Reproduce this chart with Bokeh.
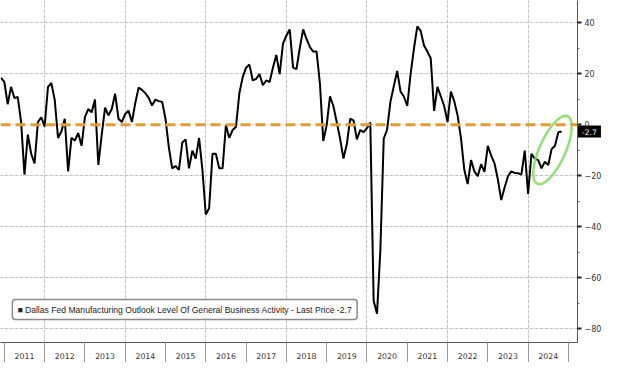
from bokeh.plotting import figure
from bokeh.models import LinearAxis, FixedTicker, Span, Label, Range1d, Grid, ColumnDataSource
from bokeh.embed import file_html
from bokeh.resources import INLINE

# ---- data (monthly, Dec 2010 .. Nov 2024) ----
start_year = 2010
start_month = 12
v2010 = [18.3]
v2011 = [16.7, 8.0, 14.8, 10.4, 10.8, 1.0, -19.6, -3.9, -11.4, -15.2, 1.0, 2.9]
v2012 = [-0.8, 14.8, 16.3, 9.8, -5.2, -2.7, 2.3, -18.3, -5.2, -6.2, -3.3, -8.3]
v2013 = [2.9, 6.1, 4.8, 9.8, -15.8, -4.0, 6.7, 3.6, 6.1, 12.1, 2.3, 1.0]
v2014 = [4.2, 5.4, 1.0, 8.5, 14.5, 13.6, 12.3, 10.5, 7.5, 9.8, 9.2, 8.9]
v2015 = [2.3, -8.9, -17.1, -16.2, -17.7, -7.0, -5.8, -17.1, -10.2, -13.3, -5.2, -17.7]
v2016 = [-35.2, -32.7, -11.4, -11.4, -17.1, -17.1, -0.2, -5.2, -2.1, -0.8, 12.3, 18.6]
v2017 = [22.3, 23.5, 17.3, 17.9, 19.8, 15.4, 17.3, 16.7, 22.3, 27.3, 19.8, 31.7]
v2018 = [34.8, 37.3, 22.3, 21.7, 30.0, 37.3, 33.6, 30.4, 28.6, 28.6, 16.0, -6.4]
v2019 = [-0.2, 11.1, 7.3, 1.0, -5.5, -13.3, -7.7, 2.3, 1.7, -5.8, -2.1, -2.9]
v2020 = [-1.4, 0.8, -69.0, -74.0, -49.0, -5.5, -2.0, 9.0, 15.0, 21.0, 13.0, 11.0]
v2021 = [7.3, 19.8, 29.8, 38.5, 36.7, 31.0, 28.6, 26.0, 5.4, 14.8, 11.1, 7.3]
v2022 = [1.0, 12.9, 9.2, 3.6, -5.2, -17.7, -23.3, -13.9, -18.3, -20.2, -15.5, -18.5]
v2023 = [-8.3, -12.1, -15.2, -21.5, -29.5, -24.6, -20.2, -18.3, -18.9, -19.0, -19.6, -10.2]
v2024 = [-27.1, -11.4, -13.3, -13.9, -17.1, -14.5, -15.8, -9.6, -8.3, -3.0, -2.7]

years = list(range(2011, 2025))
year_labels = [str(y) for y in years]
y_ticks = [-80, -60, -40, -20, 0, 20, 40]
y_minor = [-70, -50, -30, -10, 10, 30]
last_price = -2.7
last_price_text = "-2.7"
legend_text = "\u25a0 Dallas Fed Manufacturing Outlook Level Of General Business Activity - Last Price -2.7"
highlight_x = 2024.606
highlight_y = -9.9

values = (v2010 + v2011 + v2012 + v2013 + v2014 + v2015 + v2016 + v2017 +
          v2018 + v2019 + v2020 + v2021 + v2022 + v2023 + v2024)
xs = [start_year + (start_month - 1) / 12 + i / 12 for i in range(len(values))]
src = ColumnDataSource(dict(x=xs, y=values))

X0, X1 = 2010.905, 2025.226
Y0, Y1 = -85.3, 48.6
W, H = 604, 362
RIGHT, BOTTOM = 24, 20
FRAME_W = W - RIGHT

p = figure(width=W, height=H, x_range=Range1d(X0, X1), y_range=Range1d(Y0, Y1),
           output_backend="svg", toolbar_location=None,
           x_axis_location=None, y_axis_location=None,
           min_border_left=0, min_border_top=0, min_border_right=RIGHT, min_border_bottom=BOTTOM)
p.outline_line_color = None
p.background_fill_color = "white"
p.border_fill_color = "white"

# grids
gx = Grid(dimension=0, ticker=FixedTicker(ticks=[y for y in years if y % 2 == 0]),
          grid_line_color="#b8b8b8", grid_line_dash="2 3", grid_line_width=1)
gy = Grid(dimension=1, ticker=FixedTicker(ticks=[t for t in y_ticks if t != 0]),
          grid_line_color="#b8b8b8", grid_line_dash="2 3", grid_line_width=1)
p.add_layout(gx)
p.add_layout(gy)

# axes
yaxis = LinearAxis(ticker=FixedTicker(ticks=y_ticks, minor_ticks=y_minor),
                   axis_line_color="#555555", axis_line_width=1,
                   major_tick_out=4, major_tick_in=0, major_tick_line_color="#222222",
                   major_tick_line_width=2,
                   minor_tick_out=2, minor_tick_in=0, minor_tick_line_color="#666666",
                   major_label_text_font_size="8px", major_label_text_color="#333333",
                   major_label_text_font="DejaVu Sans", major_label_standoff=3)
p.add_layout(yaxis, "right")

xaxis = LinearAxis(ticker=FixedTicker(ticks=[y + 0.5 for y in years],
                                      minor_ticks=list(range(2011, 2026))),
                   major_label_overrides={y + 0.5: lab for y, lab in zip(years, year_labels)},
                   axis_line_color="#555555", axis_line_width=1,
                   major_tick_out=0, major_tick_in=0,
                   minor_tick_out=BOTTOM, minor_tick_in=0, minor_tick_line_color="#9a9a9a",
                   major_label_text_font_size="7.8px", major_label_text_color="#333333",
                   major_label_text_font="DejaVu Sans", major_label_standoff=-10)
p.add_layout(xaxis, "below")

# zero line
p.add_layout(Span(location=0, dimension="width", line_color="#E39B34",
                  line_width=3, line_dash="10 5"))

# series
p.line("x", "y", source=src, line_color="black", line_width=2)

# highlight ellipse
p.ellipse(x=[highlight_x], y=[highlight_y], width=74, height=26, angle=1.15,
          width_units="screen", height_units="screen",
          fill_color=None, line_color="#86DB63", line_width=2.5, line_alpha=0.9)

# legend box
p.add_layout(Label(x=2011.2, y=-72.4, text=legend_text, text_baseline="middle",
                   text_font="Liberation Sans", text_font_size="8.6px", text_color="#222222",
                   background_fill_color="white", border_line_color="#8a8a8a",
                   border_line_width=1.5, padding=5, border_radius=3))

# last price tag (drawn at overlay level, just right of the frame)
tag_x = X1 + 12 * (X1 - X0) / FRAME_W
p.rect(x=[tag_x], y=[last_price], width=23, height=12, width_units="screen",
       height_units="screen", fill_color="black", line_color=None, level="overlay")
p.text(x=[tag_x], y=[last_price], text=[last_price_text], text_align="center",
       text_baseline="middle", text_color="white", text_font_size="7.5px",
       text_font={"value": "DejaVu Sans"}, level="overlay")

open("out.html", "w").write(file_html(p, INLINE))
